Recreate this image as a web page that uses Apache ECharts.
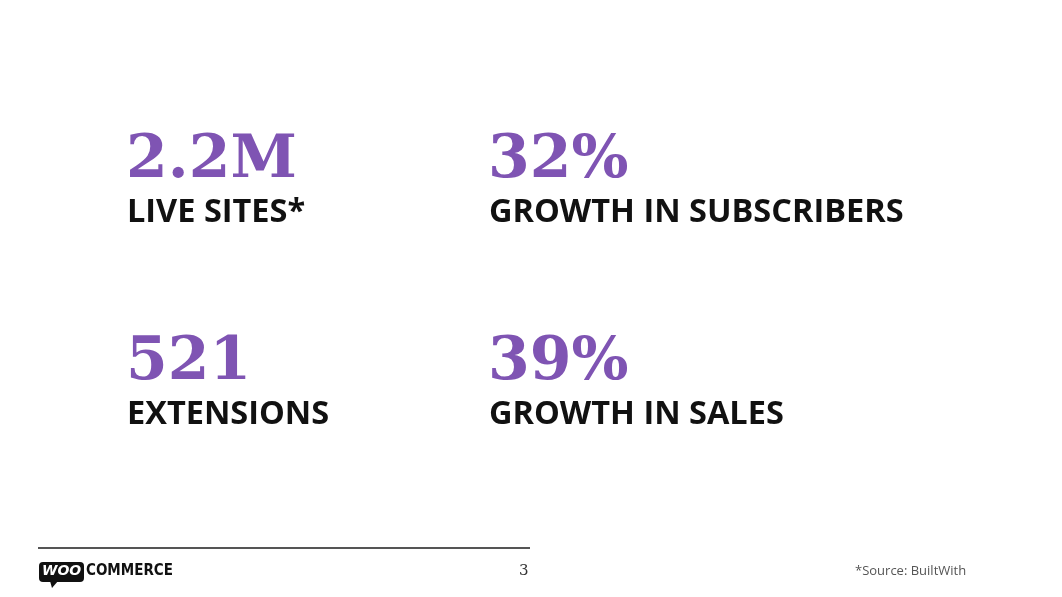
<!DOCTYPE html>
<html><head><meta charset="utf-8">
<script src="https://cdn.jsdelivr.net/npm/echarts@6/dist/echarts.min.js"></script>
<style>html,body{margin:0;padding:0;background:#fff}#c{width:1062px;height:597px}</style>
</head><body><div id="c"></div>
<script>
const statValues = ['2.2M', '32%', '521', '39%'];
const statLabels = ['LIVE SITES*', 'GROWTH IN SUBSCRIBERS', 'EXTENSIONS', 'GROWTH IN SALES'];
const pageNumber = '3';
const sourceNote = '*Source: BuiltWith';

const colX = [127, 489];
const rowNumTop = [131, 333];
const rowLabTop = [196, 398];
const els = [];
statValues.forEach((v, i) => {
  const c = i % 2, r = Math.floor(i / 2);
  els.push({type:'text', left: colX[c] - 1, top: rowNumTop[r], style:{text: v, fill:'#7f54b3', font:'bold 60px "DejaVu Serif"'}});
  els.push({type:'text', left: colX[c], top: rowLabTop[r], style:{text: statLabels[i], fill:'#111', font:'bold 32.5px "Open Sans"'}});
});
els.push({type:'line', shape:{x1:38,y1:548,x2:530,y2:548}, style:{stroke:'#555', lineWidth:2}});
els.push({type:'rect', shape:{x:39,y:562,width:45,height:20,r:4}, style:{fill:'#111'}});
els.push({type:'polygon', shape:{points:[[50,581],[58,581],[52,588]]}, style:{fill:'#111'}});
els.push({type:'text', left: 42, top: 564, style:{text:'WOO', fill:'#fff', font:'italic bold 14px "DejaVu Sans"'}});
els.push({type:'text', left: 86, top: 564, style:{text:'COMMERCE', fill:'#111', font:'bold 15px "DejaVu Sans Condensed"'}});
els.push({type:'text', left: 519, top: 564, style:{text: pageNumber, fill:'#333', font:'15px "DejaVu Serif"'}});
els.push({type:'text', left: 855, top: 565, style:{text: sourceNote, fill:'#555', font:'13px "Open Sans"'}});

const chart = echarts.init(document.getElementById('c'));
chart.setOption({backgroundColor:'#fff', graphic: els});
</script></body></html>
